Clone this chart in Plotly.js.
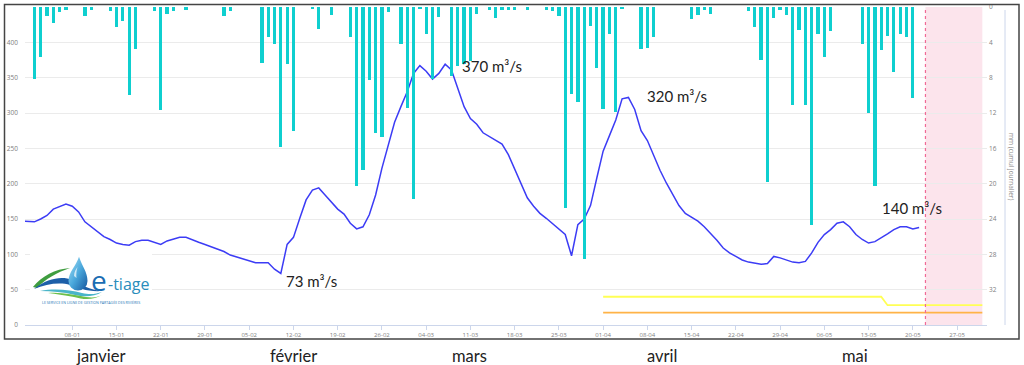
<!DOCTYPE html>
<html>
<head>
<meta charset="utf-8">
<script src="https://cdn.plot.ly/plotly-3.0.1.min.js"></script>
<style>
  html, body { margin: 0; padding: 0; background: #ffffff; }
  #chart { width: 1024px; height: 365px; }
</style>
</head>
<body>
<div id="chart"></div>
<script>
// ---------- DATA ----------
// Daily flow (m3/s), first value is 2023-12-31, then one value per day
const flowStart = "2023-12-31";
const flowValues = [
  147, 146, 146, 150, 155, 164, 168, 171, 168, 160,
  146, 139, 131, 125, 121, 116, 114, 113, 118, 120,
  120, 117, 114, 119, 122, 124, 124, 120, 117, 114,
  111, 108, 104, 99, 96, 93, 90, 88, 88, 88,
  79, 73, 114, 124, 151, 177, 191, 194, 184, 174,
  164, 157, 144, 136, 139, 156, 184, 222, 255, 287,
  309, 330, 356, 367, 359, 348, 356, 369, 361, 335,
  309, 292, 284, 272, 267, 262, 256, 241, 221, 199,
  180, 168, 158, 151, 143, 135, 128, 98, 142, 150,
  169, 208, 246, 268, 290, 320, 322, 305, 275, 261,
  240, 219, 201, 184, 169, 158, 152, 147, 139, 130,
  120, 109, 102, 97, 92, 89, 87, 86, 87, 97,
  95, 92, 89, 88, 90, 102, 117, 128, 135, 144,
  146, 139, 128, 121, 116, 118, 123, 129, 135, 139,
  139, 136, 138
];

// Daily rain (mm, cumul journalier)
const rainDates = [
  "2024-01-02","2024-01-03","2024-01-04","2024-01-05","2024-01-06","2024-01-07",
  "2024-01-10","2024-01-11","2024-01-14","2024-01-15","2024-01-16","2024-01-17",
  "2024-01-18","2024-01-21","2024-01-22","2024-01-23","2024-01-24","2024-01-26",
  "2024-02-01","2024-02-02","2024-02-07","2024-02-08","2024-02-09","2024-02-10",
  "2024-02-11","2024-02-12","2024-02-15","2024-02-16","2024-02-18","2024-02-21",
  "2024-02-22","2024-02-23","2024-02-24","2024-02-25","2024-02-26","2024-02-27",
  "2024-02-29","2024-03-01","2024-03-02","2024-03-03","2024-03-04","2024-03-05",
  "2024-03-06","2024-03-08","2024-03-09","2024-03-10","2024-03-11","2024-03-12",
  "2024-03-14","2024-03-15","2024-03-16","2024-03-17","2024-03-18","2024-03-20",
  "2024-03-23","2024-03-24","2024-03-25","2024-03-26","2024-03-27","2024-03-28",
  "2024-03-29","2024-03-30","2024-03-31","2024-04-01","2024-04-02","2024-04-03",
  "2024-04-04","2024-04-07","2024-04-08","2024-04-09","2024-04-15","2024-04-16",
  "2024-04-17","2024-04-18","2024-04-24","2024-04-25","2024-04-26","2024-04-27",
  "2024-04-28","2024-04-29","2024-04-30","2024-05-01","2024-05-02","2024-05-03",
  "2024-05-04","2024-05-05","2024-05-06","2024-05-07","2024-05-12","2024-05-13",
  "2024-05-14","2024-05-15","2024-05-16","2024-05-17","2024-05-18","2024-05-19",
  "2024-05-20"
];
const rainValues = [
  8.1, 5.65, 1.0, 1.8, 0.6, 0.3,
  1.0, 0.3, 0.4, 2.3, 1.55, 10.0,
  4.8, 0.4, 11.7, 0.8, 0.4, 0.3,
  1.0, 0.4, 6.3, 3.4, 4.2, 15.8,
  6.5, 14.0, 0.2, 2.45, 0.9, 3.4,
  20.3, 18.4, 8.3, 14.3, 14.7, 0.55,
  4.2, 11.4, 21.7, 0.2, 3.0, 8.1,
  1.1, 7.8, 6.7, 6.5, 6.1, 0.75,
  0.3, 1.3, 0.3, 0.35, 0.35, 0.3,
  0.35, 0.45, 1.05, 22.8, 9.8, 10.7,
  28.5, 2.2, 6.9, 11.5, 3.1, 11.9,
  0.2, 4.75, 4.6, 3.4, 1.4, 0.95,
  0.3, 0.75, 0.5, 2.3, 6.05, 19.8,
  1.25, 0.3, 0.85, 11.15, 2.55, 11.15,
  24.7, 3.1, 5.65, 2.7, 4.15, 12.05,
  20.3, 4.9, 3.25, 7.4, 3.1, 3.4,
  10.3
];

// Threshold lines
const yellowDates = ["2024-04-01", "2024-05-15", "2024-05-16", "2024-05-31"];
const yellowValues = [40, 40, 28, 28];
const orangeDates = ["2024-04-01", "2024-05-31"];
const orangeValues = [17.5, 17.5];

// Forecast band
const forecastStart = "2024-05-22";
const forecastEnd = "2024-05-31";

// Axis ticks
const xTickDates = ["2024-01-08","2024-01-15","2024-01-22","2024-01-29","2024-02-05",
  "2024-02-12","2024-02-19","2024-02-26","2024-03-04","2024-03-11","2024-03-18",
  "2024-03-25","2024-04-01","2024-04-08","2024-04-15","2024-04-22","2024-04-29",
  "2024-05-06","2024-05-13","2024-05-20","2024-05-27"];
const xTickLabels = ["08-01","15-01","22-01","29-01","05-02","12-02","19-02","26-02",
  "04-03","11-03","18-03","25-03","01-04","08-04","15-04","22-04","29-04","06-05",
  "13-05","20-05","27-05"];
const yTicks = [0, 50, 100, 150, 200, 250, 300, 350, 400];
const y2Ticks = [0, 4, 8, 12, 16, 20, 24, 28, 32];

const months = ["janvier", "février", "mars", "avril", "mai"];
const peakLabels = ["370 m³/s", "320 m³/s", "73 m³/s", "140 m³/s"];

// ---------- BUILD ----------
function isoDay(start, i) {
  const d = new Date(start + "T00:00:00Z");
  d.setUTCDate(d.getUTCDate() + i);
  return d.toISOString().slice(0, 10);
}
const flowDates = flowValues.map((_, i) => isoDay(flowStart, i));

const W = 1024, H = 365;
const M = { l: 25, r: 37, t: 7, b: 40 };
const PW = W - M.l - M.r, PH = H - M.t - M.b;
const px2x = px => (px - M.l) / PW;
const py2y = py => (H - M.b - py) / PH;

const traces = [
  {
    type: "bar", x: rainDates, y: rainValues, yaxis: "y2",
    width: 45000000,
    marker: { color: "#0fcfcf", line: { width: 0 } },
    hoverinfo: "skip"
  },
  {
    type: "scatter", mode: "lines", x: yellowDates, y: yellowValues,
    line: { color: "#ffff55", width: 1.8 }, hoverinfo: "skip"
  },
  {
    type: "scatter", mode: "lines", x: orangeDates, y: orangeValues,
    line: { color: "#ffb347", width: 1.8 }, hoverinfo: "skip"
  },
  {
    type: "scatter", mode: "lines", x: flowDates, y: flowValues,
    line: { color: "#3c3cf5", width: 1.5 }, hoverinfo: "skip"
  }
];

const tickFont = { family: "Open Sans, DejaVu Sans, sans-serif", size: 6.5, color: "#808080" };
const textFont = { family: "Lato, Open Sans, sans-serif", size: 15, color: "#222222" };
const monthFont = { family: "Lato, Open Sans, sans-serif", size: 16.5, color: "#222222" };

const annotations = [];
const monthX = [100, 293.3, 469, 661.7, 854.7];
months.forEach((m, i) => annotations.push({
  xref: "paper", yref: "paper", x: px2x(monthX[i]), y: py2y(356),
  xanchor: "center", yanchor: "middle", text: m, showarrow: false, font: monthFont
}));
const peakPos = [[461, 66], [646, 95.5], [285, 280.5], [881, 207.5]];
peakLabels.forEach((t, i) => annotations.push({
  xref: "paper", yref: "paper", x: px2x(peakPos[i][0]), y: py2y(peakPos[i][1]),
  xanchor: "left", yanchor: "middle", text: t, showarrow: false, font: textFont,
  borderpad: 0
}));
// right axis title
annotations.push({
  xref: "paper", yref: "paper", x: px2x(1012), y: py2y(166),
  xanchor: "center", yanchor: "middle", text: "mm (cumul journalier)",
  textangle: 90, showarrow: false,
  font: { family: "Open Sans, DejaVu Sans, sans-serif", size: 6.5, color: "#8a8a8a" }
});
// logo texts
annotations.push({
  xref: "paper", yref: "paper", x: px2x(90), y: py2y(300),
  xanchor: "left", yanchor: "bottom", text: "e", showarrow: false, borderpad: 0,
  font: { family: "Open Sans, sans-serif", size: 28, color: "#1b6db3" }
});
annotations.push({
  xref: "paper", yref: "paper", x: px2x(106.5), y: py2y(284),
  xanchor: "left", yanchor: "middle", text: "-tiage", showarrow: false, borderpad: 0,
  font: { family: "Open Sans, sans-serif", size: 16, color: "#2a8dbb" }
});
annotations.push({
  xref: "paper", yref: "paper", x: px2x(90.8), y: py2y(302.6),
  xanchor: "center", yanchor: "middle", showarrow: false, borderpad: 0,
  text: "LE SERVICE EN LIGNE DE GESTION PARTAGÉE DES RIVIÈRES",
  font: { family: "Open Sans, sans-serif", size: 3.6, color: "#2a7ab8" }
});

// logo graphic (drop + swoosh), local coords x-30, y-250
const logoSvg =
  '<svg xmlns="http://www.w3.org/2000/svg" width="122" height="58" viewBox="0 0 122 58" preserveAspectRatio="none">' +
  '<defs><linearGradient id="g" x1="0" y1="0" x2="1" y2="1">' +
  '<stop offset="0" stop-color="#a9e1f5"/><stop offset="0.5" stop-color="#4aa8dc"/>' +
  '<stop offset="1" stop-color="#14569e"/></linearGradient></defs>' +
  '<rect x="0" y="0" width="122" height="58" fill="#ffffff"/>' +
  '<path d="M3 37 C12 26 25 19 40 18 C28 22 15 29 7 38 Z" fill="#3f9d3f"/>' +
  '<path d="M4 39 C18 28 32 26 42 30 C50 34 60 40 72 41 C58 42 48 38 40 35 C30 32 16 34 4 39 Z" fill="#1c5fa8"/>' +
  '<path d="M10 41 C25 38 40 40 52 43 C60 45 66 44 72 42 C64 47 54 47 45 45 C33 42 22 41 10 41 Z" fill="#49b5c9"/>' +
  '<path d="M18 43 C32 42 44 45 56 47 C64 48 68 47 72 45 C64 50 54 50 44 47 C34 45 26 44 18 43 Z" fill="#6cbf4a"/>' +
  '<path d="M49 6.7 C52 16 57.5 22 57.5 31 A9.5 9.5 0 0 1 38.5 31 C38.5 22 46 16 49 6.7 Z" fill="url(#g)"/>' +
  '<path d="M44 26 C44 22 46 19 47.5 17 C46.5 21 46 24 46.5 28 Z" fill="#ffffff" opacity="0.7"/>' +
  '</svg>';

const shapes = [
  { type: "rect", xref: "x", yref: "paper", x0: forecastStart, x1: forecastEnd, y0: 0, y1: 1,
    fillcolor: "#fce4ec", line: { width: 0 }, layer: "below" },
  { type: "line", xref: "x", yref: "paper", x0: forecastStart, x1: forecastStart, y0: 0, y1: 1,
    line: { color: "#f06a96", width: 1.2, dash: "dot" }, layer: "above" },
  { type: "line", xref: "paper", yref: "paper", x0: px2x(1005), x1: px2x(1005), y0: 0, y1: py2y(10),
    line: { color: "#ccd6eb", width: 1 } },
  { type: "rect", xref: "paper", yref: "paper", x0: px2x(4.5), x1: px2x(1019), y0: py2y(339), y1: py2y(4.5),
    line: { color: "#444444", width: 1.5 }, fillcolor: "rgba(0,0,0,0)" }
];

const layout = {
  width: W, height: H,
  margin: M,
  paper_bgcolor: "#ffffff", plot_bgcolor: "#ffffff",
  showlegend: false,
  hovermode: false,
  bargap: 0,
  xaxis: {
    type: "date",
    range: ["2023-12-31 12:30", "2024-05-31 17:45"],
    tickmode: "array", tickvals: xTickDates, ticktext: xTickLabels,
    showgrid: false, zeroline: false,
    showline: true, linecolor: "#ccd6eb", linewidth: 1,
    ticks: "outside", ticklen: 4, tickcolor: "#ccd6eb",
    tickfont: { family: "Open Sans, DejaVu Sans, sans-serif", size: 6, color: "#808080" }
  },
  yaxis: {
    range: [0, 450],
    tickmode: "array", tickvals: yTicks,
    showgrid: true, gridcolor: "#ebebeb", gridwidth: 1,
    zeroline: false, showline: false, ticks: "",
    ticklabelstandoff: 6,
    tickfont: tickFont
  },
  yaxis2: {
    overlaying: "y", side: "right",
    range: [36, 0],
    tickmode: "array", tickvals: y2Ticks,
    showgrid: false, zeroline: false, showline: false, ticks: "",
    ticklabelstandoff: 1,
    tickfont: tickFont
  },
  shapes: shapes,
  annotations: annotations,
  images: [{
    source: "data:image/svg+xml;charset=utf-8," + encodeURIComponent(logoSvg),
    xref: "paper", yref: "paper",
    x: px2x(30), y: py2y(250), sizex: 122 / PW, sizey: 58 / PH,
    xanchor: "left", yanchor: "top", sizing: "stretch", layer: "above"
  }]
};

Plotly.newPlot("chart", traces, layout, { displayModeBar: false, staticPlot: true });
</script>
</body>
</html>
